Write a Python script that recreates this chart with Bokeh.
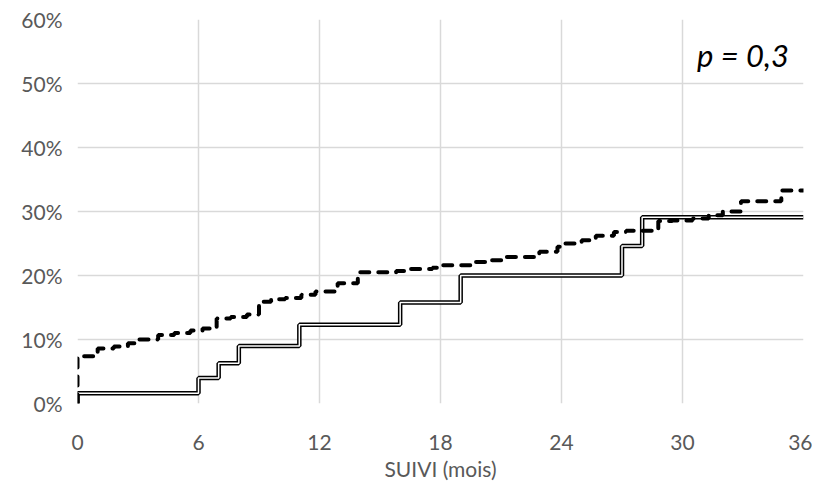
from bokeh.plotting import figure
from bokeh.models import FixedTicker, PrintfTickFormatter, Range1d
from bokeh.core.properties import value
from bokeh.embed import file_html
from bokeh.resources import INLINE

# Data (months, cumulative %)
dashed_x = [0, 0, 1.0, 1.8, 2.5, 3.0, 4.0, 4.8, 5.6, 6.2, 6.9, 7.6, 8.4, 9.0, 9.6, 10.3, 11.1,
            11.8, 12.9, 13.9, 15.8, 16.3, 17.6, 18.0, 19.7, 20.4, 21.2, 22.9, 23.8, 24.0,
            25.0, 25.7, 26.6, 27.2, 28.8, 29.5, 30.5, 31.3, 32.0, 32.9, 34.9, 36.0]
dashed_y = [0, 7.4, 8.6, 8.9, 9.4, 10.0, 10.7, 11.0, 11.4, 11.7, 13.3, 13.5, 13.9, 15.9, 16.3,
            16.5, 17.0, 17.5, 18.8, 20.5, 20.7, 21.0, 21.2, 21.6, 22.1, 22.4, 22.9, 23.7, 24.5,
            25.0, 25.5, 26.2, 26.8, 27.0, 28.5, 28.6, 28.9, 29.4, 30.0, 31.6, 33.3, 33.3]
solid_x = [0, 0, 6, 7, 8, 11, 16, 19, 27, 28, 36]
solid_y = [0, 1.6, 4.0, 6.3, 9.0, 12.3, 15.8, 20.0, 24.6, 29.1, 29.1]
x_ticks = [0, 6, 12, 18, 24, 30, 36]
y_ticks = [0, 10, 20, 30, 40, 50, 60]
annotation = "p = 0,3"
x_label = "SUIVI (mois)"

p = figure(frame_width=726, frame_height=384, output_backend="svg", toolbar_location=None,
           x_range=Range1d(0, 36), y_range=Range1d(0, 60),
           min_border_left=77, min_border_right=9, min_border_top=19, min_border_bottom=10)
p.outline_line_color = None
p.background_fill_color = "white"

font = "Lato"
grey = "#595959"
for ax in (p.xaxis, p.yaxis):
    ax.axis_line_color = None
    ax.major_tick_line_color = None
    ax.minor_tick_line_color = None
    ax.major_label_text_font = font
    ax.major_label_text_font_size = "21px"
    ax.major_label_text_color = grey

p.xaxis.ticker = FixedTicker(ticks=x_ticks)
p.yaxis.ticker = FixedTicker(ticks=y_ticks)
p.yaxis.formatter = PrintfTickFormatter(format="%d%%")
p.xaxis.major_label_standoff = 25
p.yaxis.major_label_standoff = 9
p.xaxis.axis_label = x_label
p.xaxis.axis_label_text_font = font
p.xaxis.axis_label_text_font_style = "normal"
p.xaxis.axis_label_text_font_size = "21px"
p.xaxis.axis_label_text_color = grey
p.xaxis.axis_label_standoff = 3

p.xgrid.grid_line_color = "#d9d9d9"
p.ygrid.grid_line_color = "#d9d9d9"
p.xgrid.grid_line_width = 1.5
p.ygrid.grid_line_width = 1.5

# Double (outlined) solid line
p.step(solid_x, solid_y, mode="after", line_color="black", line_width=4.5)
p.step(solid_x, solid_y, mode="after", line_color="white", line_width=1.5)

# Thick dashed line
p.step(dashed_x, dashed_y, mode="after", line_color="black", line_width=4,
       line_dash="9 9", line_cap="round")

p.text(x=[33.0], y=[54.4], text=[annotation], text_font=value("Lato"),
       text_font_style="italic", text_font_size="31px", text_color="black",
       text_align="center", text_baseline="middle")

open("out.html", "w").write(file_html(p, INLINE))
